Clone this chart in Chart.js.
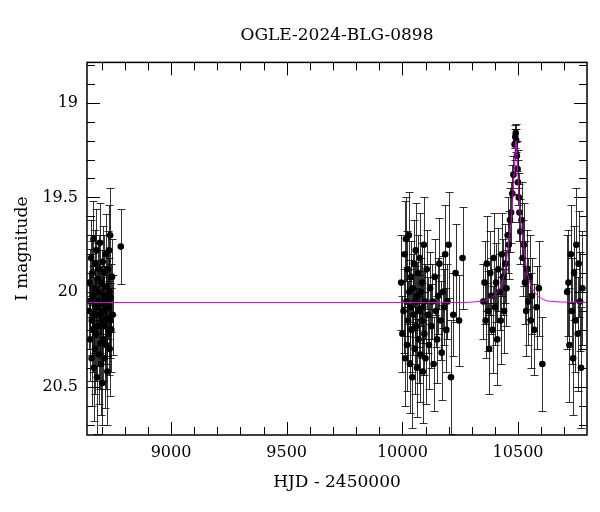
<!DOCTYPE html>
<html>
<head>
<meta charset="utf-8">
<script src="https://cdn.jsdelivr.net/npm/chart.js@4/dist/chart.umd.min.js"></script>
<style>html,body{margin:0;padding:0;background:#fff;}canvas{display:block;}</style>
</head>
<body>
<canvas id="c" width="600" height="512"></canvas>
<script>
// ---- Data ----
const titleText = "OGLE-2024-BLG-0898";
const xTitle = "HJD - 2450000";
const yTitle = "I magnitude";
const xTickValues = [9000, 9500, 10000, 10500];
const yTickValues = [19, 19.5, 20, 20.5];

const obsHJD = [
 8645,8648,8650,8652,8655,8657,8658,8660,8662,8663,8665,8667,8668,8670,8672,8673,8675,8677,8678,8680,
 8682,8683,8685,8687,8688,8690,8692,8693,8695,8697,8698,8700,8702,8703,8705,8707,8708,8710,8712,8713,
 8715,8717,8718,8720,8722,8723,8725,8727,8728,8730,8732,8733,8735,8737,8738,8740,8742,8745,8748,8783,
 9995,10000,10005,10010,10012,10015,10018,10020,10022,10025,10028,10030,10033,10035,10038,10040,10043,10045,10048,10050,
 10053,10055,10058,10060,10063,10065,10068,10070,10073,10075,10078,10080,10083,10085,10088,10090,10093,10095,10098,10100,
 10105,10110,10115,10120,10125,10130,10135,10140,10145,10150,10155,10160,10165,10170,10175,10180,10185,10190,10195,10200,
 10210,10220,10230,10245,10260,
 10350,10355,10360,10365,10370,10375,10380,10385,10390,10395,10400,10405,10410,10415,10420,10425,10430,10435,10440,10445,
 10450,10455,10460,10465,10470,10475,10480,10485,10488,10490,10492,10495,10498,10500,10503,10506,10510,10515,10520,10525,
 10530,10535,10540,10545,10550,10555,10560,10570,10580,10590,10605,
 10712,10718,10722,10728,10732,10738,10742,10748,10752,10758,10762,10768,10772,10778
];
const obsMag = [
 20.10,19.95,20.25,20.05,19.82,20.35,20.15,19.90,20.20,20.02,19.72,20.40,20.12,19.98,20.30,19.85,20.08,20.22,19.78,20.45,
 20.05,19.93,20.18,20.00,20.33,19.88,20.12,19.74,20.27,20.06,20.38,19.95,20.15,20.48,19.84,20.10,20.25,20.02,19.90,20.35,
 20.18,20.05,19.80,20.28,19.97,20.14,20.42,19.88,20.08,20.22,19.78,20.00,20.30,19.70,20.15,20.03,20.20,19.92,20.12,19.76,
 19.95,20.22,20.10,19.80,20.35,19.72,20.05,20.28,19.88,20.15,19.70,20.00,20.38,20.08,19.92,20.20,20.45,19.98,20.12,19.85,
 20.30,20.05,19.78,20.18,20.40,20.02,19.90,20.25,20.10,19.82,20.33,20.00,20.15,19.95,20.42,20.08,19.75,20.22,20.05,20.35,
 19.88,20.12,20.28,19.98,20.18,20.05,20.38,19.92,20.10,20.25,20.02,19.85,20.15,20.32,20.00,20.08,19.80,20.20,20.05,19.75,
 20.45,20.12,19.90,20.15,19.82,
 20.05,19.95,20.15,19.85,20.10,20.30,19.90,20.02,20.20,19.82,20.08,19.95,20.25,19.88,20.00,20.15,19.80,19.92,20.10,19.85,
 19.98,19.70,19.75,19.62,19.58,19.48,19.38,19.22,19.18,19.16,19.20,19.28,19.35,19.42,19.50,19.58,19.68,19.62,19.82,19.75,
 19.95,20.10,19.88,20.05,19.92,20.15,20.02,20.20,20.08,19.98,20.38,
 20.00,19.95,20.28,19.80,20.10,20.35,19.90,20.15,19.75,20.22,19.85,20.05,20.40,19.98
];
const obsErr = [
 0.20,0.18,0.22,0.15,0.20,0.25,0.18,0.17,0.22,0.16,0.20,0.28,0.20,0.15,0.24,0.18,0.16,0.25,0.22,0.30,
 0.17,0.19,0.21,0.15,0.26,0.18,0.20,0.21,0.24,0.16,0.27,0.17,0.20,0.22,0.19,0.18,0.22,0.16,0.20,0.26,
 0.20,0.17,0.21,0.23,0.18,0.20,0.28,0.20,0.17,0.22,0.24,0.18,0.25,0.25,0.20,0.18,0.22,0.20,0.21,0.20,
 0.25,0.20,0.22,0.28,0.25,0.22,0.18,0.24,0.20,0.21,0.23,0.17,0.26,0.20,0.19,0.22,0.27,0.18,0.21,0.23,
 0.24,0.19,0.25,0.20,0.26,0.18,0.20,0.23,0.19,0.24,0.25,0.18,0.20,0.21,0.27,0.19,0.25,0.22,0.20,0.24,
 0.21,0.20,0.23,0.19,0.22,0.20,0.25,0.20,0.19,0.23,0.20,0.24,0.21,0.25,0.19,0.20,0.26,0.22,0.20,0.28,
 0.30,0.22,0.26,0.24,0.27,
 0.20,0.22,0.20,0.25,0.21,0.24,0.22,0.20,0.23,0.24,0.20,0.21,0.24,0.22,0.20,0.23,0.22,0.20,0.22,0.21,
 0.20,0.20,0.18,0.17,0.16,0.15,0.10,0.08,0.06,0.05,0.06,0.08,0.10,0.12,0.13,0.15,0.17,0.20,0.20,0.22,
 0.22,0.24,0.21,0.23,0.22,0.25,0.20,0.24,0.22,0.25,0.25,
 0.30,0.28,0.30,0.26,0.28,0.30,0.25,0.27,0.30,0.30,0.28,0.26,0.32,0.30
];

const modelHJD = [8637,10250,10331,10371,10411,10431,10446,10461,10471,10476,10481,10486,10491,10496,10501,10506,10511,10521,10536,10551,10571,10611,10651,10798];
const modelMag = [20.055,20.055,20.05,20.04,20.00,19.95,19.87,19.72,19.62,19.53,19.42,19.30,19.20,19.30,19.42,19.53,19.62,19.72,19.87,19.95,20.00,20.04,20.05,20.055];

const xMin = 8637, xMax = 10798;
const yMin = 18.787, yMax = 20.755;

// ---- Plugins ----
const errorBars = {
  id: 'errorBars',
  beforeDatasetsDraw(chart) {
    const {ctx, chartArea: a, scales: {x, y}} = chart;
    ctx.save();
    ctx.beginPath();
    ctx.rect(a.left, a.top, a.width, a.height);
    ctx.clip();
    ctx.strokeStyle = 'rgba(0,0,0,0.8)';
    ctx.lineWidth = 1;
    for (let i = 0; i < obsHJD.length; i++) {
      const px = Math.round(x.getPixelForValue(obsHJD[i])) + 0.5;
      const p1 = Math.round(y.getPixelForValue(obsMag[i] - obsErr[i])) + 0.5;
      const p2 = Math.round(y.getPixelForValue(obsMag[i] + obsErr[i])) + 0.5;
      ctx.beginPath();
      ctx.moveTo(px, p1); ctx.lineTo(px, p2);
      ctx.moveTo(px - 4, p1); ctx.lineTo(px + 4, p1);
      ctx.moveTo(px - 4, p2); ctx.lineTo(px + 4, p2);
      ctx.stroke();
    }
    ctx.restore();
  }
};

const frameTicks = {
  id: 'frameTicks',
  afterDatasetsDraw(chart) {
    const {ctx, chartArea: a, scales: {x, y}} = chart;
    ctx.save();
    ctx.strokeStyle = '#000';
    ctx.lineWidth = 1;
    ctx.beginPath();
    for (let v = 8700; v <= 10700; v += 100) {
      const px = Math.round(x.getPixelForValue(v)) + 0.5;
      const len = (v % 500 === 0) ? 13 : 8;
      ctx.moveTo(px, a.bottom); ctx.lineTo(px, a.bottom - len);
      ctx.moveTo(px, a.top); ctx.lineTo(px, a.top + len);
    }
    for (let k = 188; k <= 207; k++) {
      const v = k / 10;
      const py = Math.round(y.getPixelForValue(v)) + 0.5;
      const len = (k % 5 === 0) ? 13 : 8;
      ctx.moveTo(a.left, py); ctx.lineTo(a.left + len, py);
      ctx.moveTo(a.right, py); ctx.lineTo(a.right - len, py);
    }
    ctx.stroke();
    ctx.lineWidth = 1.5;
    ctx.strokeRect(a.left, a.top, a.width, a.height);
    ctx.restore();
  }
};

Chart.defaults.font.family = "'DejaVu Serif', serif";
Chart.defaults.color = '#000';

const obsPoints = obsHJD.map((h, i) => ({x: h, y: obsMag[i]}));
const modelPoints = modelHJD.map((h, i) => ({x: h, y: modelMag[i]}));

new Chart(document.getElementById('c'), {
  type: 'scatter',
  data: {
    datasets: [
      {
        label: 'model',
        data: modelPoints,
        showLine: true,
        borderColor: '#e000e0',
        borderWidth: 1,
        pointRadius: 0,
        cubicInterpolationMode: 'monotone',
        order: 0
      },
      {
        label: 'OGLE I',
        data: obsPoints,
        pointRadius: 3.3,
        pointBackgroundColor: '#000',
        pointBorderWidth: 0,
        order: 1
      }
    ]
  },
  options: {
    responsive: false,
    animation: false,
    devicePixelRatio: 1,
    layout: {padding: {left: 0, right: 13, top: 0, bottom: 0}},
    plugins: {
      legend: {display: false},
      tooltip: {enabled: false},
      title: {
        display: true,
        fullSize: false,
        text: titleText,
        font: {size: 17, weight: 'normal'},
        color: '#000',
        padding: {top: 25, bottom: 17}
      }
    },
    scales: {
      x: {
        type: 'linear',
        min: xMin, max: xMax,
        grid: {display: false, drawTicks: false},
        border: {display: false},
        afterBuildTicks: s => { s.ticks = xTickValues.map(v => ({value: v})); },
        afterFit: s => { s.height = 77; },
        ticks: {
          font: {size: 16},
          color: '#000',
          padding: 8,
          maxRotation: 0,
          autoSkip: false,
          callback: v => String(v)
        },
        title: {
          display: true,
          text: xTitle,
          font: {size: 17},
          color: '#000',
          padding: {top: 0, bottom: 19}
        }
      },
      y: {
        type: 'linear',
        reverse: true,
        min: yMin, max: yMax,
        grid: {display: false, drawTicks: false},
        border: {display: false},
        afterBuildTicks: s => { s.ticks = yTickValues.map(v => ({value: v})); },
        afterFit: s => { s.width = 87; },
        ticks: {
          font: {size: 16},
          color: '#000',
          padding: 9,
          autoSkip: false,
          callback: v => String(v)
        },
        title: {
          display: true,
          text: yTitle,
          font: {size: 17},
          color: '#000',
          padding: {top: 12, bottom: 0}
        }
      }
    }
  },
  plugins: [errorBars, frameTicks]
});
</script>
</body>
</html>
